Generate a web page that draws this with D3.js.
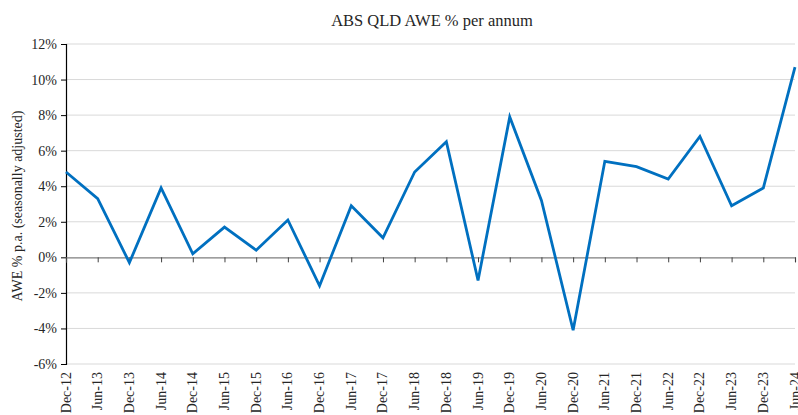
<!DOCTYPE html>
<html>
<head>
<meta charset="utf-8">
<script src="https://cdn.jsdelivr.net/npm/d3@7"></script>
<style>
  body { margin: 0; background: #fff; }
  svg text { font-family: "Liberation Serif", "DejaVu Serif", serif; fill: #262626; }
</style>
</head>
<body>
<svg id="chart" width="798" height="415"></svg>
<script>
const periods = ['Dec-12','Jun-13','Dec-13','Jun-14','Dec-14','Jun-15','Dec-15','Jun-16','Dec-16','Jun-17','Dec-17','Jun-18',
    'Dec-18','Jun-19','Dec-19','Jun-20','Dec-20','Jun-21','Dec-21','Jun-22','Dec-22','Jun-23','Dec-23','Jun-24'];
const awe = [4.8, 3.3, -0.3, 3.9, 0.2, 1.7, 0.4, 2.1, -1.6, 2.9, 1.1, 4.8,
    6.5, -1.3, 7.9, 3.2, -4.1, 5.4, 5.1, 4.4, 6.8, 2.9, 3.9, 10.7];
const yTicks = [-6, -4, -2, 0, 2, 4, 6, 8, 10, 12];

const margin = {top: 44, right: 3, bottom: 51, left: 66};
const width = 798, height = 415;
const svg = d3.select('#chart');

const x = d3.scalePoint().domain(periods).range([margin.left, width - margin.right]);
const y = d3.scaleLinear().domain([-6, 12]).range([height - margin.bottom, margin.top]);

// title
svg.append('text')
    .attr('x', 432).attr('y', 26)
    .attr('text-anchor', 'middle')
    .style('font-size', '16.5px')
    .text('ABS QLD AWE % per annum');

// gridlines
svg.append('g').selectAll('line.grid').data(yTicks.filter(d => d !== 0))
    .join('line')
    .attr('class', 'grid')
    .attr('x1', margin.left).attr('x2', width - margin.right)
    .attr('y1', d => y(d)).attr('y2', d => y(d))
    .attr('stroke', '#d9d9d9').attr('stroke-width', 1);

// y axis
const yAxis = svg.append('g')
    .attr('transform', `translate(${margin.left},0)`)
    .call(d3.axisLeft(y).tickValues(yTicks).tickSize(5).tickPadding(4).tickFormat(d => d + '%'));
yAxis.select('.domain').attr('stroke', '#000').attr('stroke-width', 1.2);
yAxis.selectAll('.tick line').attr('stroke', '#000');
yAxis.selectAll('text').style('font-size', '14px').style('font-family', '"Liberation Serif", serif').attr('fill', '#262626');

// zero axis with ticks
const zeroAxis = svg.append('g')
    .attr('transform', `translate(0,${y(0)})`)
    .call(d3.axisBottom(x).tickSize(5).tickFormat(''));
zeroAxis.select('.domain').attr('stroke', '#7f7f7f').attr('stroke-width', 1.2);
zeroAxis.selectAll('.tick line').attr('stroke', '#404040');

// x labels at bottom
svg.append('g').selectAll('text.xl').data(periods)
    .join('text')
    .attr('class', 'xl')
    .attr('transform', d => `translate(${x(d) + 4.5},${y(-6) + 8}) rotate(-90)`)
    .attr('text-anchor', 'end')
    .style('font-size', '14px')
    .text(d => d);

// y label
svg.append('text')
    .attr('transform', `translate(22,${(y(12) + y(-6)) / 2 + 2}) rotate(-90)`)
    .attr('text-anchor', 'middle')
    .style('font-size', '14px')
    .text('AWE % p.a. (seasonally adjusted)');

// line
const line = d3.line().x((d, i) => x(periods[i])).y(d => y(d));
svg.append('path')
    .datum(awe)
    .attr('d', line)
    .attr('fill', 'none')
    .attr('stroke', '#0070C0')
    .attr('stroke-width', 2.8)
    .attr('stroke-linejoin', 'miter');
</script>
</body>
</html>
